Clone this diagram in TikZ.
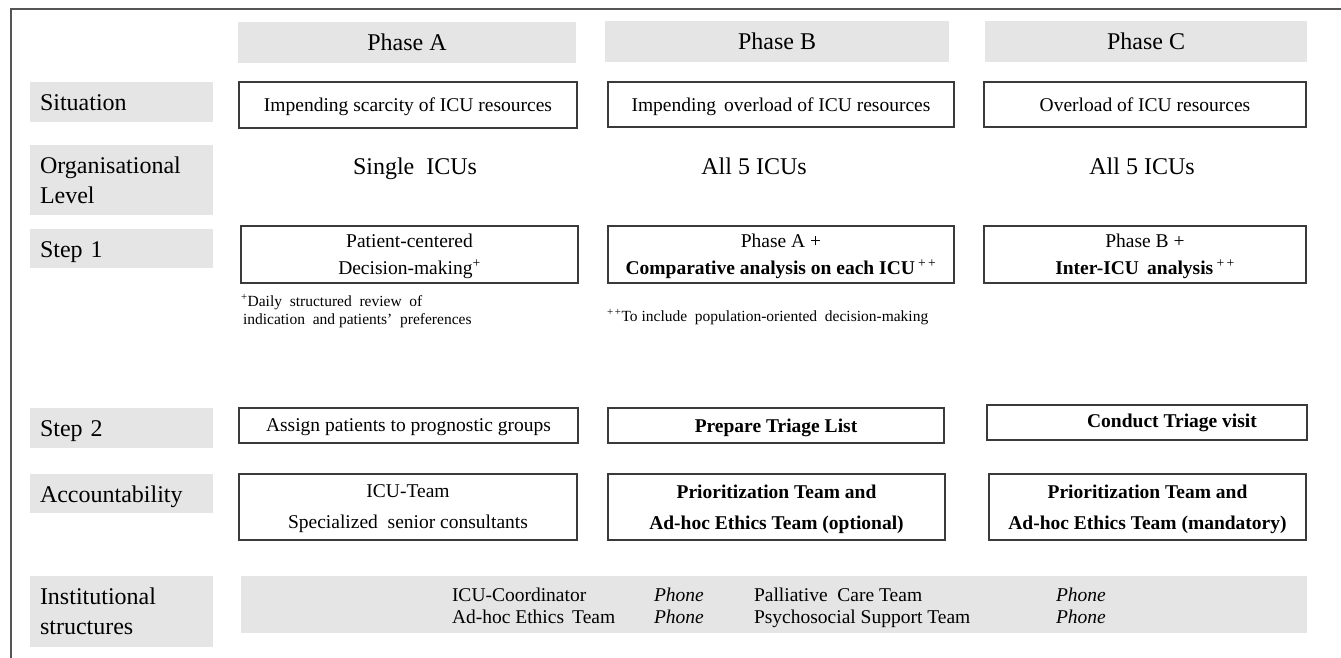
\documentclass[tikz,border=0pt]{standalone}
\usepackage{fontspec}
\setmainfont{Liberation Serif}
\definecolor{graybg}{HTML}{E5E5E5}
\definecolor{boxcol}{HTML}{3A3A3A}
\definecolor{framecol}{HTML}{555555}
\begin{document}
\begin{tikzpicture}[x=1pt,y=-1pt,
  rowlabel/.style={fill=graybg, anchor=north west, minimum width=183pt, text width=163pt,
    inner xsep=10pt, inner ysep=0pt, outer sep=0pt, align=left,
    font=\fontsize{24}{30}\selectfont},
  onelabel/.style={rowlabel, text height=17pt, text depth=-2pt},
  phasehead/.style={fill=graybg, anchor=north west, inner sep=0pt, outer sep=0pt,
    font=\fontsize{24}{30}\selectfont},
  box/.style={draw=boxcol, line width=1.1pt, anchor=north west, inner sep=0pt, outer sep=0pt,
    align=center, text depth=-4.5pt, font=\fontsize{19.5}{27}\selectfont},
  plain/.style={inner sep=0pt, outer sep=0pt},
  bigtext/.style={plain, anchor=base, font=\fontsize{24}{30}\selectfont},
  medtext/.style={plain, font=\fontsize{19.5}{27}\selectfont},
  smltext/.style={plain, anchor=base west, font=\fontsize{15.5}{18}\selectfont},
  insttext/.style={plain, anchor=base west, font=\fontsize{19.5}{24}\selectfont}
]
\useasboundingbox (0,0) rectangle (1341,658);
% frame
\coordinate (fbl) at (11,658);
\coordinate (ftl) at (11,9);
\coordinate (ftr) at (1341,9);
\draw[framecol, line width=1.8pt] (fbl) -- (ftl) -- (ftr);

% phase headers
\node[phasehead, minimum width=338pt, minimum height=41pt] (phA) at (238,22) {Phase A};
\node[phasehead, minimum width=344pt, minimum height=41pt] (phB) at (605,21) {Phase B};
\node[phasehead, minimum width=322pt, minimum height=41pt] (phC) at (985,21) {Phase C};

% row labels
\node[onelabel, minimum height=40pt] (lSit) at (30,82) {Situation};
\node[rowlabel, minimum height=70pt] (lOrg) at (30,145) {Organisational\\Level};
\node[onelabel, minimum height=39pt] (lS1) at (30,229) {Step 1};
\node[onelabel, minimum height=40pt] (lS2) at (30,408) {Step 2};
\node[onelabel, minimum height=39pt] (lAcc) at (30,474) {Accountability};
\node[rowlabel, minimum height=71pt] (lInst) at (30,576) {Institutional\\structures};

% situation
\node[box, minimum width=338pt, minimum height=46pt] (sitA) at (239,82) {Impending scarcity of ICU resources};
\node[box, minimum width=346pt, minimum height=45pt] (sitB) at (608,82) {Impending\ \,overload of ICU resources};
\node[box, minimum width=322pt, minimum height=45pt] (sitC) at (984,82) {Overload of ICU resources};

% organisational level
\node[bigtext] (orgA) at (415,174.5) {Single\ \ ICUs};
\node[bigtext] (orgB) at (754,174.5) {All 5 ICUs};
\node[bigtext] (orgC) at (1142,174.5) {All 5 ICUs};

% step 1
\node[box, minimum width=337pt, minimum height=57pt] (s1A) at (241,226) {Patient-centered\\Decision-making\textsuperscript{+}};
\node[box, minimum width=346pt, minimum height=57pt] (s1B) at (608,226) {Phase A +\\\textbf{Comparative analysis on each ICU}\,\textsuperscript{+\,+}};
\node[box, minimum width=322pt, minimum height=57pt] (s1C) at (984,226) {Phase B +\\\textbf{Inter-ICU\ \,analysis}\,\textsuperscript{+\,+}};

% footnotes
\node[smltext] (fnA1) at (241,306) {\textsuperscript{+}Daily\ \ structured\ \ review\ \ of};
\node[smltext] (fnA2) at (243,324) {indication\ \ and patients’\ \ preferences};
\node[smltext] (fnB) at (607,321) {\textsuperscript{+\,+}To include\ \ population-oriented\ \ decision-making};

% step 2
\node[box, minimum width=339pt, minimum height=35pt] (s2A) at (239,408) {Assign patients to prognostic groups};
\node[box, minimum width=336pt, minimum height=35pt] (s2B) at (608,408) {\textbf{Prepare Triage List}};
\node[box, minimum width=320pt, minimum height=35pt] (s2C) at (987,405) {};
\node[medtext] (s2Ct) at (1172,422.5) {\textbf{Conduct Triage visit}};

% accountability
\node[box, minimum width=338pt, minimum height=66pt, font=\fontsize{19.5}{31}\selectfont] (accA) at (239,474) {ICU-Team\\Specialized\ \ senior consultants};
\node[box, minimum width=337pt, minimum height=66pt, font=\fontsize{19.5}{31}\selectfont] (accB) at (608,474) {\textbf{Prioritization Team and}\\\textbf{Ad-hoc Ethics Team (optional)}};
\node[box, minimum width=317pt, minimum height=66pt, font=\fontsize{19.5}{31}\selectfont] (accC) at (989,474) {\textbf{Prioritization Team and}\\\textbf{Ad-hoc Ethics Team (mandatory)}};

% institutional structures
\node[fill=graybg, anchor=north west, minimum width=1066pt, minimum height=57pt, inner sep=0pt, outer sep=0pt] (instBand) at (241,576) {};
\node[insttext] (i1) at (452,601) {ICU-Coordinator};
\node[insttext] (i2) at (654,601) {\itshape Phone};
\node[insttext] (i3) at (754,601) {Palliative\ \ Care Team};
\node[insttext] (i4) at (1056,601) {\itshape Phone};
\node[insttext] (i5) at (452,623) {Ad-hoc Ethics\ \,Team};
\node[insttext] (i6) at (654,623) {\itshape Phone};
\node[insttext] (i7) at (754,623) {Psychosocial Support Team};
\node[insttext] (i8) at (1056,623) {\itshape Phone};
\end{tikzpicture}
\end{document}
